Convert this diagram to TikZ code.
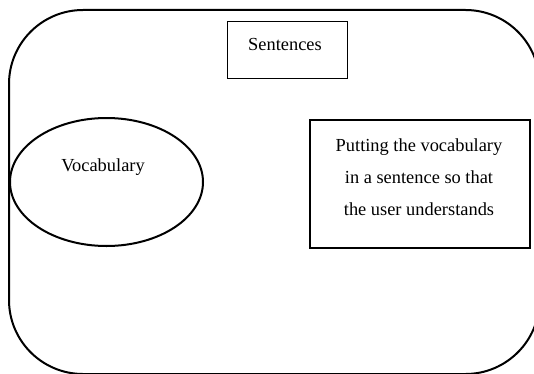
\documentclass[tikz,border=0pt]{standalone}
\usepackage{fontspec}
\setmainfont{Liberation Serif}
\usetikzlibrary{shapes.geometric}
\begin{document}
\begin{tikzpicture}[x=1pt,y=1pt,
  frame/.style={draw=black,line width=2pt},
  thinbox/.style={draw=black,line width=1pt,rectangle,inner sep=0pt},
  thickbox/.style={draw=black,line width=2.5pt,rectangle,inner sep=0pt},
  oval/.style={draw=black,line width=2pt,ellipse,inner sep=0pt},
  label/.style={font=\fontsize{18.4}{32}\selectfont,align=center,inner sep=0pt}]
\useasboundingbox (0,0) rectangle (534,373);
\fill[white] (0,0) rectangle (534,373);
% outer rounded frame, running off the right and bottom edges
\begin{scope}
  \clip (0,0) rectangle (534,373);
  \draw[frame,rounded corners=74pt] (9,-1) rectangle (539.5,363);
\end{scope}
% title box
\node[thinbox,minimum width=120pt,minimum height=57pt] (sentbox) at (287,322.9) {};
\node[label] (senttext) at (285,329) {Sentences};
% vocabulary ellipse
\node[oval,minimum width=193pt,minimum height=128pt] (vocab) at (106.5,191) {};
\node[label] (vocabtext) at (103,206) {Vocabulary};
% explanation box
\node[thickbox,minimum width=220pt,minimum height=128pt] (explbox) at (420,189) {};
\node[label] (expltext) at (419,196) {Putting the vocabulary\\in a sentence so that\\the user understands};
\end{tikzpicture}
\end{document}
